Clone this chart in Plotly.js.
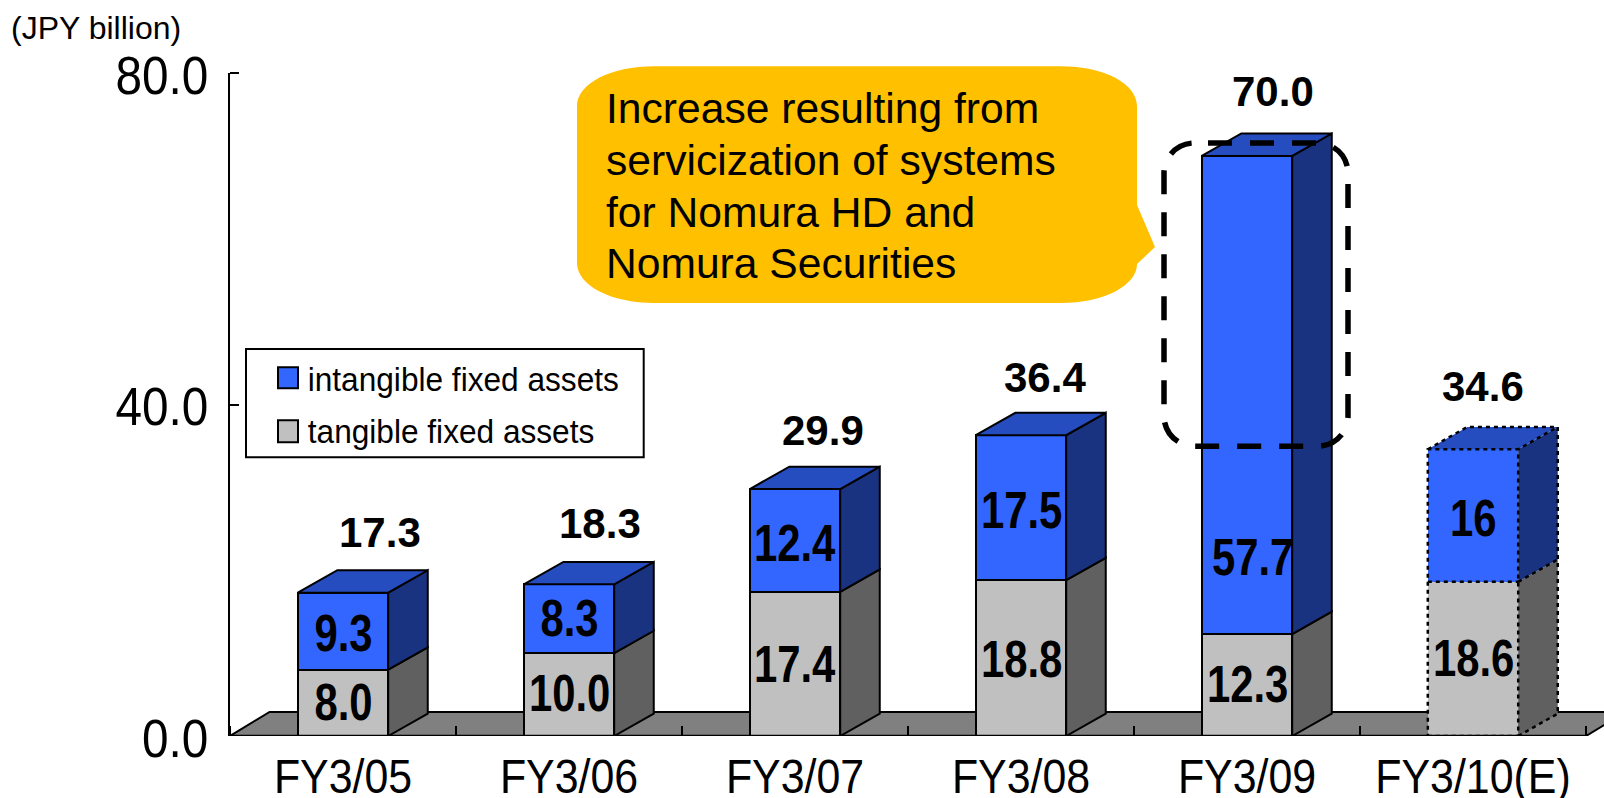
<!DOCTYPE html>
<html><head><meta charset="utf-8">
<script src="https://cdn.plot.ly/plotly-3.0.1.min.js"></script>
<style>html,body{margin:0;padding:0;background:#fff;overflow:hidden}#c{width:1604px;height:798px}</style>
</head><body><div id="c"></div>
<script>
const categories = ["FY3/05","FY3/06","FY3/07","FY3/08","FY3/09","FY3/10(E)"];
const tangible = [8.0,10.0,17.4,18.8,12.3,18.6];
const intangible = [9.3,8.3,12.4,17.5,57.7,16];
const tangibleLabels = ["8.0","10.0","17.4","18.8","12.3","18.6"];
const intangibleLabels = ["9.3","8.3","12.4","17.5","57.7","16"];
const totals = [17.3,18.3,29.9,36.4,70.0,34.6];
const totalLabels = ["17.3","18.3","29.9","36.4","70.0","34.6"];
const seriesNames = ["intangible fixed assets","tangible fixed assets"];
const unitLabel = "(JPY billion)";
const calloutLines = ["Increase resulting from","servicization of systems","for Nomura HD and","Nomura Securities"];
const yTicks = [0,40,80];
const yTickText = ["0.0","40.0","80.0"];

// Look
const W=1604,H=798,L=230,T=73,B=62.3;
const catPx=226, unitPx=(H-T-B)/80;
const barW=0.4, dx=0.175, dy=2.7;
const BLUE="#3366FF",BLUE_TOP="#264DBF",BLUE_SIDE="#1A3380",GREY="#C0C0C0",GREY_SIDE="#606060",FLOOR="#808080";
const SANS="'Liberation Sans',Arial,sans-serif";
const X=p=>-0.5+(p-L)/catPx, Y=p=>(H-B-p)/unitPx;
const PX=p=>(p-L)/(W-L), PY=p=>(H-B-p)/(H-T-B);
const totalXShift=[37,31,28,24,26,10], totalYShift=[60,61,58,57,64,63];
const innerYShift=[[0,1,-1,-1,1,0],[-2,0,-3,-3,163,-3]];
const innerXShift=[[0,0,0,0,0,0],[0,0,0,0,5,0]];
const squeeze={inner:0.82,ytick:0.9,xtick:0.875,legend:0.93};

const cats=categories.map((_,i)=>i);
const sc=i=>i===5?{color:"#000",width:2.5,dash:"4px,4px"}:{color:"#000",width:2};
const traces=[];
traces.push({type:"bar",x:cats,y:tangible,name:seriesNames[1],width:barW,marker:{color:GREY,line:{color:"#000",width:[2,2,2,2,2,0]}},hoverinfo:"y"});
traces.push({type:"bar",x:cats,y:intangible,name:seriesNames[0],width:barW,marker:{color:BLUE,line:{color:"#000",width:[2,2,2,2,2,0]}},hoverinfo:"y"});
function poly(xs,ys,fill,line){traces.push({type:"scatter",mode:"lines",x:xs,y:ys,fill:"toself",fillcolor:fill,line:line,hoverinfo:"skip",showlegend:false});}
function path(xs,ys,line){traces.push({type:"scatter",mode:"lines",x:xs,y:ys,line:line,hoverinfo:"skip",showlegend:false});}
cats.forEach(i=>{
  const l=i-barW/2,r=i+barW/2,g=tangible[i],t=g+intangible[i];
  const ln=i===5?{width:0,color:"rgba(0,0,0,0)"}:sc(i);
  poly([r,r+dx,r+dx,r,r],[0,dy,g+dy,g,0],GREY_SIDE,ln);
  poly([r,r+dx,r+dx,r,r],[g,g+dy,t+dy,t,g],BLUE_SIDE,ln);
  poly([l,l+dx,r+dx,r,l],[t,t+dy,t+dy,t,t],BLUE_TOP,ln);
  if(i===5){
    const d=sc(5);
    path([l,r,r,l,l],[0,0,t,t,0],d);
    path([l,r],[g,g],d);
    path([r,r+dx,r+dx,r],[0,dy,t+dy,t],d);
    path([r,r+dx],[g,g+dy],d);
    path([l,l+dx,r+dx],[t,t+dy,t+dy],d);
  }
});
path([-0.5,5.5],[0,0],{color:"#000",width:2.5});

const shapes=[];
shapes.push({type:"path",layer:"below",xref:"x",yref:"y",
  path:`M -0.5 0 L ${-0.5+dx} ${dy+0.2} L ${5.5+dx} ${dy+0.2} L 5.5 0 Z`,fillcolor:FLOOR,line:{color:"#000",width:2}});
for(let i=0;i<=6;i++){
  shapes.push({type:"line",layer:"below",xref:"x",yref:"y",x0:i-0.5,x1:i-0.5,y0:0,y1:1.2,line:{color:"#000",width:2}});
}
// top axis tick, kept inside the clip of the plot area
shapes.push({type:"line",layer:"above",xref:"paper",yref:"paper",x0:0,x1:PX(L+9),y0:1,y1:1,line:{color:"#000",width:2}});
// callout bubble
const k=v=>v.toFixed(5);
const cx0=PX(577),cx1=PX(1137),cy0=PY(66.3),cy1=PY(303);
shapes.push({type:"path",layer:"above",xref:"paper",yref:"paper",fillcolor:"#FFC000",line:{width:0},
  path:`M ${k(PX(655))} ${k(cy0)} L ${k(PX(1060))} ${k(cy0)} C ${k(PX(1105))} ${k(cy0)} ${k(cx1)} ${k(PY(84))} ${k(cx1)} ${k(PY(106))} `+
       `L ${k(cx1)} ${k(PY(205))} L ${k(PX(1155))} ${k(PY(247))} L ${k(cx1)} ${k(PY(264))} `+
       `C ${k(cx1)} ${k(PY(285))} ${k(PX(1105))} ${k(cy1)} ${k(PX(1060))} ${k(cy1)} L ${k(PX(655))} ${k(cy1)} `+
       `C ${k(PX(610))} ${k(cy1)} ${k(cx0)} ${k(PY(285))} ${k(cx0)} ${k(PY(263))} L ${k(cx0)} ${k(PY(106))} `+
       `C ${k(cx0)} ${k(PY(84))} ${k(PX(610))} ${k(cy0)} ${k(PX(655))} ${k(cy0)} Z`});
// dashed highlight, starting where the first top dash starts
const dl=1164,dr=1348,dt=143,db=446,rad=30,c=rad*0.45,ds=1208;
shapes.push({type:"path",layer:"above",xref:"x",yref:"y",line:{color:"#000",width:5.5,dash:"24px,18px"},
  path:`M ${k(X(ds))} ${k(Y(dt))} L ${k(X(dr-rad))} ${k(Y(dt))} C ${k(X(dr-c))} ${k(Y(dt))} ${k(X(dr))} ${k(Y(dt+c))} ${k(X(dr))} ${k(Y(dt+rad))} `+
       `L ${k(X(dr))} ${k(Y(db-rad))} C ${k(X(dr))} ${k(Y(db-c))} ${k(X(dr-c))} ${k(Y(db))} ${k(X(dr-rad))} ${k(Y(db))} `+
       `L ${k(X(dl+rad))} ${k(Y(db))} C ${k(X(dl+c))} ${k(Y(db))} ${k(X(dl))} ${k(Y(db-c))} ${k(X(dl))} ${k(Y(db-rad))} `+
       `L ${k(X(dl))} ${k(Y(dt+rad))} C ${k(X(dl))} ${k(Y(dt+c))} ${k(X(dl+c))} ${k(Y(dt))} ${k(X(dl+rad))} ${k(Y(dt))} L ${k(X(ds))} ${k(Y(dt))}`});
// legend box and swatches
shapes.push({type:"rect",layer:"above",xref:"x",yref:"y",x0:X(246),x1:X(643.7),y0:Y(349),y1:Y(457),fillcolor:"#fff",line:{color:"#000",width:2}});
shapes.push({type:"rect",layer:"above",xref:"x",yref:"y",x0:X(278),x1:X(298),y0:Y(367),y1:Y(388),fillcolor:BLUE,line:{color:"#000",width:2}});
shapes.push({type:"rect",layer:"above",xref:"x",yref:"y",x0:X(278),x1:X(298),y0:Y(420),y1:Y(442),fillcolor:GREY,line:{color:"#000",width:2}});

const ann=[];
const A=(o)=>ann.push(Object.assign({showarrow:false,xref:"x",yref:"y",borderpad:0},o));
const innerIdx=[], legendIdx=[];
cats.forEach(i=>{
  A({x:i,y:totals[i],text:totalLabels[i],xshift:totalXShift[i],yshift:totalYShift[i],font:{family:SANS,size:42,color:"#000",weight:700},yanchor:"middle"});
  innerIdx.push(ann.length);
  A({x:i,y:tangible[i]/2,text:tangibleLabels[i],xshift:innerXShift[0][i],yshift:innerYShift[0][i],font:{family:SANS,size:51,color:"#000",weight:700},yanchor:"middle"});
  innerIdx.push(ann.length);
  A({x:i,y:tangible[i]+intangible[i]/2,text:intangibleLabels[i],xshift:innerXShift[1][i],yshift:innerYShift[1][i]-(i===4?326:0),font:{family:SANS,size:51,color:"#000",weight:700},yanchor:"middle"});
});
calloutLines.forEach((t,j)=>A({x:X(605),y:Y([108.3,160,212,263][j]),text:t,xanchor:"left",yanchor:"middle",font:{family:SANS,size:42.6,color:"#000"}}));
legendIdx.push(ann.length);
A({x:X(295),y:Y(379),text:seriesNames[0],xanchor:"left",yanchor:"middle",font:{family:SANS,size:34,color:"#000"}});
legendIdx.push(ann.length);
A({x:X(296),y:Y(431),text:seriesNames[1],xanchor:"left",yanchor:"middle",font:{family:SANS,size:34,color:"#000"}});
A({xref:"paper",yref:"paper",x:-L/(W-L),y:1+(T-28)/(H-T-B),xanchor:"left",yanchor:"middle",xshift:10,text:unitLabel,font:{family:SANS,size:32,color:"#000"}});

function condense(el,ratio){
  const w=el.getComputedTextLength();
  el.setAttribute("textLength",(w*ratio).toFixed(2));
  el.setAttribute("lengthAdjust","spacingAndGlyphs");
}
Plotly.newPlot("c",traces,{
  width:W,height:H,margin:{l:L,r:0,t:T,b:B,pad:0},
  paper_bgcolor:"#fff",plot_bgcolor:"#fff",showlegend:false,barmode:"stack",
  xaxis:{type:"linear",range:[-0.5,-0.5+(W-L)/catPx],tickmode:"array",tickvals:cats,ticktext:categories,ticks:"",
    showgrid:false,zeroline:false,showline:false,tickfont:{family:SANS,size:49,color:"#000"},ticklabelstandoff:7,automargin:false},
  yaxis:{range:[0,80],tickmode:"array",tickvals:yTicks,ticktext:yTickText,ticks:"inside",ticklen:9,tickwidth:2,tickcolor:"#000",
    showgrid:false,zeroline:false,showline:true,linecolor:"#000",linewidth:2,tickfont:{family:SANS,size:53,color:"#000"},ticklabelstandoff:9,automargin:false},
  shapes:shapes,annotations:ann
},{displayModeBar:false,staticPlot:true}).then(gd=>{
  gd.querySelectorAll(".xtick text").forEach(t=>condense(t,squeeze.xtick));
  gd.querySelectorAll(".ytick text").forEach(t=>{condense(t,squeeze.ytick);t.setAttribute("y",(+t.getAttribute("y")+2).toString());});
  const texts=gd.querySelectorAll(".annotation");
  innerIdx.forEach(i=>{const t=texts[i]&&texts[i].querySelector("text");if(t)condense(t,squeeze.inner);});
  legendIdx.forEach(i=>{const t=texts[i]&&texts[i].querySelector("text");if(t)condense(t,squeeze.legend);});
});
</script></body></html>
